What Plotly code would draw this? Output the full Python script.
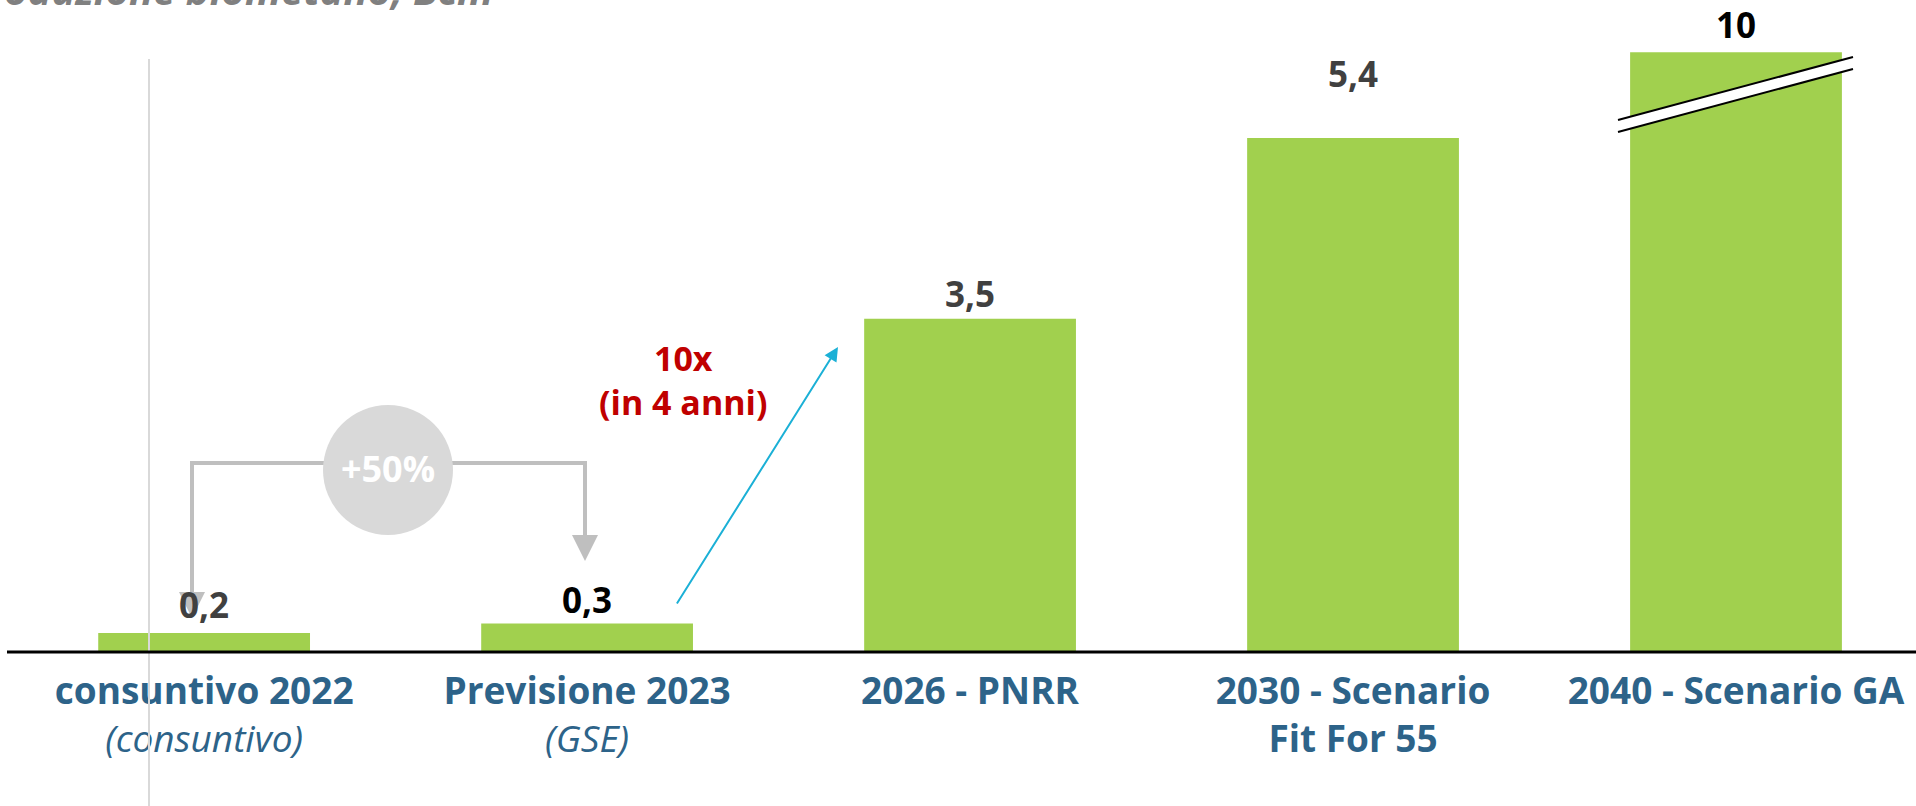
import plotly.graph_objects as go

# --- data ---
categories = ["consuntivo 2022", "Previsione 2023", "2026 - PNRR", "2030 - Scenario", "2040 - Scenario GA"]
tick_labels = [
    "<b>consuntivo 2022</b><br><i>(consuntivo)</i>",
    "<b>Previsione 2023</b><br><i>(GSE)</i>",
    "<b>2026 - PNRR</b><br> ",
    "<b>2030 - Scenario</b><br><b>Fit For 55</b>",
    "<b>2040 - Scenario GA</b><br> ",
]
values = [0.2, 0.3, 3.5, 5.4, 10]
# last bar is drawn cut (axis break), so its drawn height is capped
drawn_values = [0.2, 0.3, 3.5, 5.4, 6.3]
value_labels = ["0,2", "0,3", "3,5", "5,4", "10"]

# --- style ---
W, H = 1916, 806
PLOT_BOTTOM = 652  # pixel row of the x axis
GREEN = "#A1D04E"
BLUE_TXT = "#2D6389"
label_colors = ["#404040", "#000000", "#404040", "#404040", "#000000"]
label_shift = [28, 24, 25, 65, 28]
FONT = "Open Sans"


def px(x):
    return x / W


def py(y):
    return (PLOT_BOTTOM - y) / PLOT_BOTTOM


fig = go.Figure()

fig.add_trace(go.Bar(
    x=categories,
    y=drawn_values,
    marker=dict(color=GREEN, line=dict(width=0)),
    width=0.553,
    hoverinfo="skip",
))

annotations = []
for i, (v, txt, col, sh) in enumerate(zip(drawn_values, value_labels, label_colors, label_shift)):
    annotations.append(dict(
        x=i, y=v, xref="x", yref="y", text=txt, showarrow=False,
        yanchor="middle", yshift=sh,
        font=dict(family=FONT, size=35, color=col, weight="bold"),
    ))

# cut-off title at the very top
annotations.append(dict(
    x=px(495), y=py(19), xref="paper", yref="paper", xanchor="right", yanchor="bottom",
    text="Produzione biometano, Bcm", showarrow=False,
    font=dict(family=FONT, size=40, color="#808080", weight="bold", style="italic"),
))

# 10x growth note
annotations.append(dict(
    x=px(683), y=py(380), xref="paper", yref="paper", text="10x<br>(in 4 anni)",
    showarrow=False, font=dict(family=FONT, size=34, color="#C00000", weight="bold"),
))

# blue growth arrow
annotations.append(dict(
    x=px(838), y=py(347), xref="paper", yref="paper", text="",
    showarrow=True, ax=676 - 838, ay=605 - 347, axref="pixel", ayref="pixel",
    arrowcolor="#1BB0D6", arrowwidth=2, arrowhead=2, arrowsize=1.4,
))

GREY_ARROW = "#BFBFBF"
shapes = [
    # vertical divider
    dict(type="line", xref="paper", yref="paper", x0=px(149), x1=px(149),
         y0=py(59), y1=py(806), line=dict(color="#D9D9D9", width=2), layer="above"),
    # x axis line
    dict(type="line", xref="paper", yref="paper", x0=px(7), x1=1,
         y0=py(652), y1=py(652), line=dict(color="black", width=3), layer="above"),
    # +50% connector
    dict(type="path", xref="paper", yref="paper",
         path=f"M{px(192)},{py(594)} L{px(192)},{py(463)} L{px(585)},{py(463)} L{px(585)},{py(537)}",
         line=dict(color=GREY_ARROW, width=4), layer="above"),
    dict(type="path", xref="paper", yref="paper",
         path=f"M{px(179)},{py(592)} L{px(205)},{py(592)} L{px(192)},{py(618)} Z",
         fillcolor=GREY_ARROW, line=dict(width=0), layer="above"),
    dict(type="path", xref="paper", yref="paper",
         path=f"M{px(572)},{py(535)} L{px(598)},{py(535)} L{px(585)},{py(561)} Z",
         fillcolor=GREY_ARROW, line=dict(width=0), layer="above"),
    dict(type="circle", xref="paper", yref="paper",
         x0=px(388 - 65), x1=px(388 + 65), y0=py(470 + 65), y1=py(470 - 65),
         fillcolor="#D9D9D9", line=dict(width=0), layer="above",
         label=dict(text="<b>+50%</b>", textposition="middle center",
                    font=dict(family=FONT, size=36, color="white"))),
    # axis break on last bar
    dict(type="path", xref="paper", yref="paper",
         path=f"M{px(1618)},{py(120)} L{px(1853)},{py(57)} L{px(1853)},{py(69)} L{px(1618)},{py(132)} Z",
         fillcolor="white", line=dict(width=0), layer="above"),
    dict(type="line", xref="paper", yref="paper", x0=px(1618), x1=px(1853),
         y0=py(120), y1=py(57), line=dict(color="black", width=2), layer="above"),
    dict(type="line", xref="paper", yref="paper", x0=px(1618), x1=px(1853),
         y0=py(132), y1=py(69), line=dict(color="black", width=2), layer="above"),
]

fig.update_layout(
    width=W, height=H,
    margin=dict(l=0, r=0, t=0, b=H - PLOT_BOTTOM, pad=0),
    plot_bgcolor="white", paper_bgcolor="white",
    showlegend=False,
    xaxis=dict(
        type="category",
        tickvals=categories, ticktext=tick_labels,
        range=[-0.533, 4.47],
        showgrid=False, zeroline=False, showline=False, ticks="",
        ticklabelstandoff=14,
        tickfont=dict(family=FONT, size=37, color=BLUE_TXT),
        fixedrange=True,
    ),
    yaxis=dict(range=[0, 6.85], visible=False, fixedrange=True),
    annotations=annotations,
    shapes=shapes,
)

fig.write_html(
    "out.html",
    config={"displayModeBar": False},
    post_script="document.body.style.margin='0';document.body.style.overflow='hidden';",
)
